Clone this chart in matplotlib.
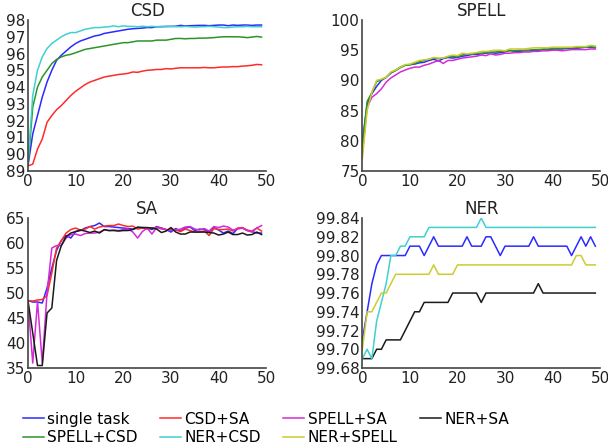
import numpy as np
import matplotlib
matplotlib.use('Agg')
from matplotlib import pyplot as plt
from matplotlib.lines import Line2D

epochs = np.arange(50)

# CSD task
csd_single = [89.3, 91.2, 92.3, 93.4, 94.3, 95.0, 95.6, 95.9, 96.15, 96.4,
              96.6, 96.75, 96.85, 96.95, 97.05, 97.1, 97.2, 97.25, 97.3, 97.35,
              97.4, 97.45, 97.48, 97.5, 97.52, 97.55, 97.55, 97.6, 97.6, 97.62,
              97.62, 97.63, 97.68, 97.65, 97.66, 97.67, 97.68, 97.68, 97.66, 97.68,
              97.7, 97.7, 97.66, 97.7, 97.68, 97.7, 97.7, 97.68, 97.7, 97.7]
csd_csd_sa = [89.3, 89.4, 90.3, 90.9, 91.9, 92.3, 92.65, 92.9, 93.2, 93.5,
              93.75, 93.95, 94.15, 94.3, 94.4, 94.5, 94.6, 94.65, 94.7, 94.75,
              94.78, 94.82, 94.9, 94.88, 94.95, 95.0, 95.02, 95.05, 95.05, 95.1,
              95.08, 95.12, 95.15, 95.15, 95.15, 95.15, 95.15, 95.17, 95.15, 95.15,
              95.18, 95.2, 95.2, 95.22, 95.22, 95.25, 95.27, 95.3, 95.35, 95.33]
csd_spell_csd = [89.3, 92.8, 94.0, 94.6, 95.0, 95.4, 95.65, 95.8, 95.9, 95.95,
                 96.05, 96.15, 96.25, 96.3, 96.35, 96.4, 96.45, 96.5, 96.55, 96.6,
                 96.65, 96.65, 96.7, 96.75, 96.75, 96.75, 96.75, 96.8, 96.8, 96.8,
                 96.85, 96.9, 96.9, 96.88, 96.9, 96.9, 96.92, 96.92, 96.93, 96.95,
                 96.98, 97.0, 97.0, 97.0, 97.0, 96.98, 96.95, 96.98, 97.02, 96.98]
csd_ner_csd = [89.5, 93.5, 95.0, 95.8, 96.3, 96.6, 96.8, 97.0, 97.15, 97.25,
               97.25, 97.35, 97.45, 97.5, 97.55, 97.55, 97.58, 97.6, 97.65, 97.6,
               97.65, 97.62, 97.62, 97.6, 97.63, 97.6, 97.62, 97.6, 97.62, 97.6,
               97.62, 97.6, 97.6, 97.62, 97.6, 97.58, 97.6, 97.6, 97.62, 97.6,
               97.58, 97.55, 97.55, 97.58, 97.6, 97.6, 97.62, 97.6, 97.6, 97.6]

# SPELL task
spell_single = [80, 86, 87.8, 89, 90, 90.5, 91.2, 91.7, 92.2, 92.5,
                92.6, 92.7, 92.9, 93.0, 93.3, 93.5, 93.2, 93.6, 93.8, 93.7,
                93.8, 94.0, 94.1, 94.3, 94.3, 94.4, 94.5, 94.6, 94.5, 94.6,
                94.7, 95.0, 94.8, 94.8, 94.9, 94.9, 95.0, 95.0, 95.1, 95.1,
                95.2, 95.2, 95.2, 95.3, 95.3, 95.3, 95.4, 95.5, 95.5, 95.4]
spell_spell_sa = [78, 85.5, 87.2, 87.8, 88.6, 89.7, 90.4, 90.9, 91.4, 91.7,
                  92.0, 92.2, 92.2, 92.5, 92.7, 93.0, 93.3, 92.8, 93.3, 93.3,
                  93.5, 93.7, 93.8, 93.9, 94.0, 94.2, 94.1, 94.4, 94.2, 94.3,
                  94.5, 94.5, 94.6, 94.6, 94.7, 94.7, 94.8, 94.8, 94.9, 94.9,
                  95.0, 95.0, 94.9, 95.0, 95.1, 95.1, 95.1, 95.1, 95.2, 95.2]
spell_spell_csd = [79, 86.5, 88, 89.8, 90.1, 90.5, 91.3, 91.6, 92.1, 92.5,
                   92.6, 92.8, 93.1, 93.3, 93.5, 93.7, 93.6, 93.7, 93.9, 94.0,
                   93.9, 94.2, 94.4, 94.3, 94.5, 94.5, 94.6, 94.7, 94.7, 94.8,
                   94.8, 94.9, 94.9, 95.0, 95.0, 95.0, 95.1, 95.1, 95.2, 95.2,
                   95.3, 95.3, 95.3, 95.4, 95.4, 95.4, 95.5, 95.5, 95.6, 95.5]
spell_ner_spell = [77, 85, 88, 90, 90.2, 90.5, 91.4, 91.7, 92.2, 92.6,
                   92.7, 93.0, 93.3, 93.4, 93.5, 93.8, 93.7, 93.7, 94.0, 94.2,
                   94.1, 94.5, 94.4, 94.5, 94.6, 94.8, 94.8, 94.9, 95.0, 95.0,
                   94.9, 95.2, 95.2, 95.2, 95.2, 95.3, 95.4, 95.4, 95.4, 95.4,
                   95.5, 95.5, 95.5, 95.5, 95.5, 95.6, 95.6, 95.6, 95.8, 95.7]

# SA task
sa_single = [48.5, 48.2, 48.2, 48.0, 51, 55, 58.5, 60.5, 61.5, 61,
             62.3, 62.5, 63, 63.3, 63.5, 64.0, 63.3, 63.3, 63.2, 63.1,
             63, 62.9, 62.8, 63, 63.1, 63.0, 62.7, 63.3, 63, 62.7,
             62.2, 62.9, 62.4, 63.0, 63.2, 62.5, 62.8, 62.7, 62.2, 63.1,
             62.6, 62.0, 62.4, 61.9, 62.9, 63.0, 62.5, 62.3, 62.0, 62.0]
sa_csd_sa = [48.5, 48.4, 48.6, 48.7, 49.5, 54, 59, 60.5, 62, 62.7,
             63, 62.6, 62.8, 63.3, 62.8, 63.2, 63.4, 63.5, 63.5, 63.8,
             63.5, 63.3, 63.4, 62.8, 63, 62.8, 63, 63.1, 63, 62.6,
             62.8, 62.6, 62.3, 62.8, 62.5, 62.2, 62.2, 62.4, 61.5, 62.9,
             62.7, 62.7, 62.8, 62.4, 63, 63.1, 62.6, 62.4, 63, 62.4]
sa_spell_sa = [48.3, 36, 48.3, 36, 50, 59, 59.5, 59.5, 61, 61.7,
               61.8, 61.5, 61.9, 62, 62, 62.2, 62.6, 62.5, 62.6, 62.5,
               62.7, 62.8, 62.2, 61, 62.3, 63, 61.8, 63.1, 62.8, 62.7,
               62.5, 62.6, 62.8, 63.2, 63.3, 62.8, 62.6, 62.9, 62.4, 63.3,
               63.1, 63.4, 63.2, 62.6, 62.8, 63, 62.5, 62.2, 63, 63.5]
sa_ner_sa = [48.5, 42, 35.5, 35.5, 46, 47, 56.5, 59.5, 61.3, 62,
             62.3, 62.6, 62.4, 62.1, 62.4, 62.0, 62.7, 62.5, 62.5, 62.4,
             62.5, 62.5, 62.7, 63.2, 63.1, 63.1, 63, 62.8, 62.1, 62.4,
             63.1, 62.2, 61.8, 61.8, 62.2, 62.2, 62.2, 62.2, 62.1, 62.0,
             61.6, 61.8, 62.2, 61.7, 61.7, 62.0, 61.6, 61.7, 62.2, 61.7]

# NER task
ner_single = [99.71, 99.74, 99.77, 99.79, 99.80, 99.80, 99.80, 99.80, 99.80, 99.80,
              99.81, 99.81, 99.81, 99.80, 99.81, 99.82, 99.81, 99.81, 99.81, 99.81,
              99.81, 99.81, 99.82, 99.81, 99.81, 99.81, 99.82, 99.82, 99.81, 99.80,
              99.81, 99.81, 99.81, 99.81, 99.81, 99.81, 99.82, 99.81, 99.81, 99.81,
              99.81, 99.81, 99.81, 99.81, 99.80, 99.81, 99.82, 99.81, 99.82, 99.81]
ner_ner_sa = [99.69, 99.69, 99.69, 99.70, 99.70, 99.71, 99.71, 99.71, 99.71, 99.72,
              99.73, 99.74, 99.74, 99.75, 99.75, 99.75, 99.75, 99.75, 99.75, 99.76,
              99.76, 99.76, 99.76, 99.76, 99.76, 99.75, 99.76, 99.76, 99.76, 99.76,
              99.76, 99.76, 99.76, 99.76, 99.76, 99.76, 99.76, 99.77, 99.76, 99.76,
              99.76, 99.76, 99.76, 99.76, 99.76, 99.76, 99.76, 99.76, 99.76, 99.76]
ner_ner_csd = [99.69, 99.70, 99.69, 99.73, 99.75, 99.77, 99.80, 99.80, 99.81, 99.81,
               99.82, 99.82, 99.82, 99.82, 99.83, 99.83, 99.83, 99.83, 99.83, 99.83,
               99.83, 99.83, 99.83, 99.83, 99.83, 99.84, 99.83, 99.83, 99.83, 99.83,
               99.83, 99.83, 99.83, 99.83, 99.83, 99.83, 99.83, 99.83, 99.83, 99.83,
               99.83, 99.83, 99.83, 99.83, 99.83, 99.83, 99.83, 99.83, 99.83, 99.83]
ner_ner_spell = [99.70, 99.74, 99.74, 99.75, 99.76, 99.76, 99.77, 99.78, 99.78, 99.78,
                 99.78, 99.78, 99.78, 99.78, 99.78, 99.79, 99.78, 99.78, 99.78, 99.78,
                 99.79, 99.79, 99.79, 99.79, 99.79, 99.79, 99.79, 99.79, 99.79, 99.79,
                 99.79, 99.79, 99.79, 99.79, 99.79, 99.79, 99.79, 99.79, 99.79, 99.79,
                 99.79, 99.79, 99.79, 99.79, 99.79, 99.80, 99.80, 99.79, 99.79, 99.79]

colors = {'single task': '#2b2bff', 'CSD+SA': '#ff2b2b', 'SPELL+SA': '#d42bd4',
          'NER+SA': '#1a1a1a', 'SPELL+CSD': '#2b952b', 'NER+CSD': '#40d0d0',
          'NER+SPELL': '#cccc30'}

panels = [
    ('CSD', [0.046, 0.616, 0.392, 0.339], [89, 98], np.arange(89, 99, 1), '%d',
     [('single task', csd_single), ('CSD+SA', csd_csd_sa),
      ('SPELL+CSD', csd_spell_csd), ('NER+CSD', csd_ner_csd)]),
    ('SPELL', [0.596, 0.616, 0.391, 0.339], [75, 100], np.arange(75, 101, 5), '%d',
     [('single task', spell_single), ('SPELL+SA', spell_spell_sa),
      ('SPELL+CSD', spell_spell_csd), ('NER+SPELL', spell_ner_spell)]),
    ('SA', [0.046, 0.173, 0.392, 0.337], [35, 65], np.arange(35, 66, 5), '%d',
     [('single task', sa_single), ('CSD+SA', sa_csd_sa),
      ('SPELL+SA', sa_spell_sa), ('NER+SA', sa_ner_sa)]),
    ('NER', [0.596, 0.173, 0.391, 0.337], [99.68, 99.84], np.arange(99.68, 99.845, 0.02), '%.2f',
     [('single task', ner_single), ('NER+SA', ner_ner_sa),
      ('NER+CSD', ner_ner_csd), ('NER+SPELL', ner_ner_spell)]),
]

fig = plt.figure(figsize=(6.08, 4.45), dpi=100)

for title, rect, ylim, yticks, fmt, series in panels:
    ax = fig.add_axes(rect)
    for name, vals in series:
        ax.plot(epochs, vals, color=colors[name], lw=1.1)
    ax.set_xlim(0, 50)
    ax.set_ylim(ylim)
    ax.set_xticks([0, 10, 20, 30, 40, 50])
    ax.set_yticks(yticks)
    ax.set_yticklabels([fmt % v for v in yticks])
    ax.set_title(title, fontsize=12, color='#222222', pad=3)
    ax.spines['top'].set_visible(False)
    ax.spines['right'].set_visible(False)
    for s in ['left', 'bottom']:
        ax.spines[s].set_color('#444444')
        ax.spines[s].set_linewidth(1.2)
    ax.tick_params(length=0, labelsize=11, colors='#222222', pad=2)

order = ['single task', 'SPELL+CSD', 'CSD+SA', 'NER+CSD', 'SPELL+SA', 'NER+SPELL', 'NER+SA']
handles = [Line2D([], [], color=colors[n], lw=1.1) for n in order]
fig.legend(handles, order, loc='lower left', bbox_to_anchor=(0.015, -0.032), ncol=4,
           frameon=False, fontsize=11, handlelength=1.4, handletextpad=0.2,
           columnspacing=1.45, labelspacing=0.25)

fig.savefig('out.png', dpi=100)
